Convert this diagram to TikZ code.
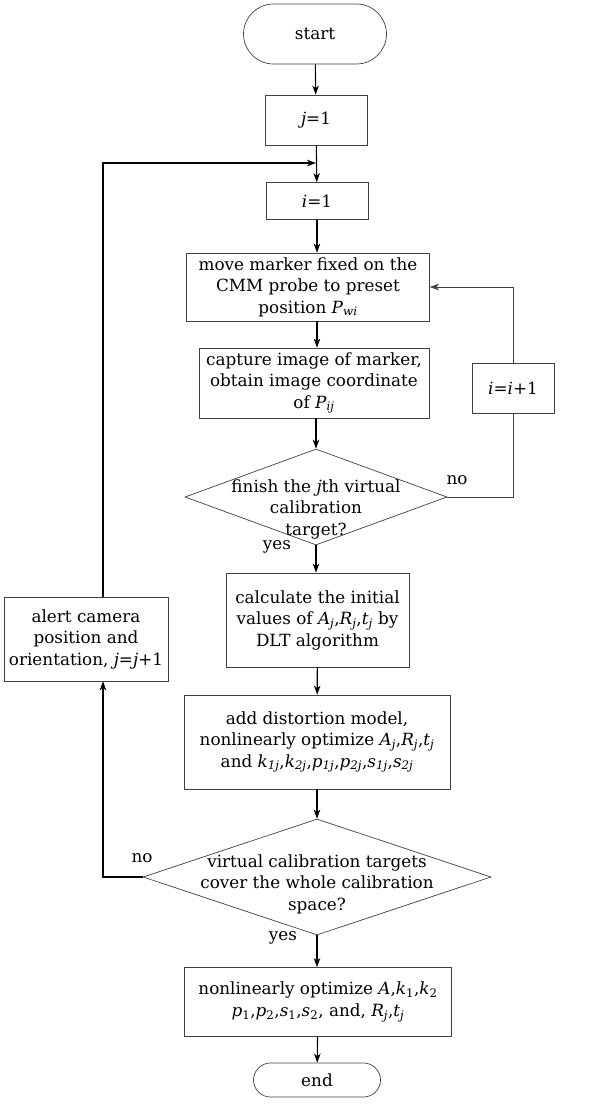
\documentclass[tikz,border=0pt]{standalone}
\usepackage{fontspec}
\setmainfont{DejaVu Serif}
\usetikzlibrary{shapes.geometric,arrows.meta}
% italic variable and its italic subscript, set in the text font
\newcommand\mv[1]{\textit{#1}}
\newcommand\vsub[1]{\textsubscript{\itshape #1}}
\begin{document}
\begin{tikzpicture}[x=1pt,y=1pt,
  every node/.style={font=\fontsize{16.8}{21.5}\selectfont},
  procbox/.style={draw=black!75,line width=0.7pt,align=center,inner sep=0pt},
  term/.style={draw=black!75,line width=0.7pt,inner sep=0pt},
  dia/.style={draw=black!75,line width=0.7pt,diamond,inner sep=0pt},
  arr/.style={line width=1.1pt,-{Stealth[length=9pt,width=6.5pt,inset=2.5pt]}},
  link/.style={draw=black!75,line width=0.7pt},
  lbl/.style={inner sep=0pt}]
\useasboundingbox (0,0) rectangle (594,-1110);

% terminals
\node[term,minimum width=143pt,minimum height=60pt,rounded corners=30pt] (start) at (315,-34) {start};
\node[term,minimum width=127pt,minimum height=34pt,rounded corners=17pt] (end) at (317,-1080) {end};

% process boxes
\node[procbox,minimum width=102pt,minimum height=50pt] (j1) at (316,-120) {\mv{j}=1};
\node[procbox,minimum width=102pt,minimum height=37pt] (i1) at (317,-201) {\mv{i}=1};
\node[procbox,minimum width=243pt,minimum height=68pt] (move) at (308,-287)
  {move marker fixed on the\\CMM probe to preset\\position \mv{P}\vsub{wi}};
\node[procbox,minimum width=230pt,minimum height=70pt] (cap) at (314,-383)
  {capture image of marker,\\obtain image coordinate\\of \mv{P}\vsub{ij}};
\node[procbox,minimum width=82pt,minimum height=50pt] (inc) at (513,-388) {\mv{i}=\mv{i}+1};
\node[procbox,minimum width=183pt,minimum height=94pt] (calc) at (317.5,-620)
  {calculate the initial\\values of \mv{A}\vsub{j},\mv{R}\vsub{j},\mv{t}\vsub{j} by\\DLT algorithm};
\node[procbox,minimum width=266pt,minimum height=94pt] (add) at (317,-742)
  {add distortion model,\\nonlinearly optimize \mv{A}\vsub{j},\mv{R}\vsub{j},\mv{t}\vsub{j}\\and
   \mv{k}\vsub{1j},\mv{k}\vsub{2j},\mv{p}\vsub{1j},\mv{p}\vsub{2j},\mv{s}\vsub{1j},\mv{s}\vsub{2j}};
\node[procbox,minimum width=164pt,minimum height=84pt] (alert) at (86,-639)
  {alert camera\\position and\\orientation, \mv{j}=\mv{j}+1};
\node[procbox,minimum width=267pt,minimum height=69pt] (final) at (318,-1002)
  {nonlinearly optimize \mv{A},\mv{k}\textsubscript{1},\mv{k}\textsubscript{2}\\\mv{p}\textsubscript{1},\mv{p}\textsubscript{2},\mv{s}\textsubscript{1},\mv{s}\textsubscript{2}, and, \mv{R}\vsub{j},\mv{t}\vsub{j}};

% decisions
\node[dia,minimum width=262pt,minimum height=96pt] (d1) at (316,-497) {};
\node[align=center,inner sep=0pt] (d1t) at (316,-509)
  {finish the \mv{j}th virtual\\calibration\\target?};
\node[dia,minimum width=348pt,minimum height=116pt] (d2) at (317,-877) {};
\node[align=center,inner sep=0pt] (d2t) at (317,-884)
  {virtual calibration targets\\cover the whole calibration\\space?};

% branch labels
\node[lbl] (no1) at (457,-480) {no};
\node[lbl] (yes1) at (277,-547) {yes};
\node[lbl] (no2) at (142,-858) {no};
\node[lbl] (yes2) at (283,-938) {yes};

% helper points of the loops
\coordinate (m) at (316,-163);
\coordinate (lx) at (103,-877);

% main flow
\draw[arr] (start) -- (j1);
\draw[arr] (j1) -- (i1);
\draw[arr] (i1.south) -- (i1.south |- move.north);
\draw[arr] (move.south -| i1) -- (cap.north -| i1);
\draw[arr] (cap.south -| d1) -- (d1.north);
\draw[arr] (d1.south) -- (calc.north -| d1.south);
\draw[arr] (calc) -- (add);
\draw[arr] (add) -- (d2);
\draw[arr] (d2.south) -- (final.north -| d2.south);
\draw[arr] (final) -- (end);

% inner loop over i
\draw[link] (d1.east) -| (inc.south);
\draw[link,-{Stealth[length=9pt,width=6.5pt,inset=2.5pt]}] (inc.north) |- (move.east);

% outer loop over j
\draw[arr] (d2.west) -- (lx) -- (lx |- alert.south);
\draw[arr] (lx |- alert.north) |- (m);
\end{tikzpicture}
\end{document}
